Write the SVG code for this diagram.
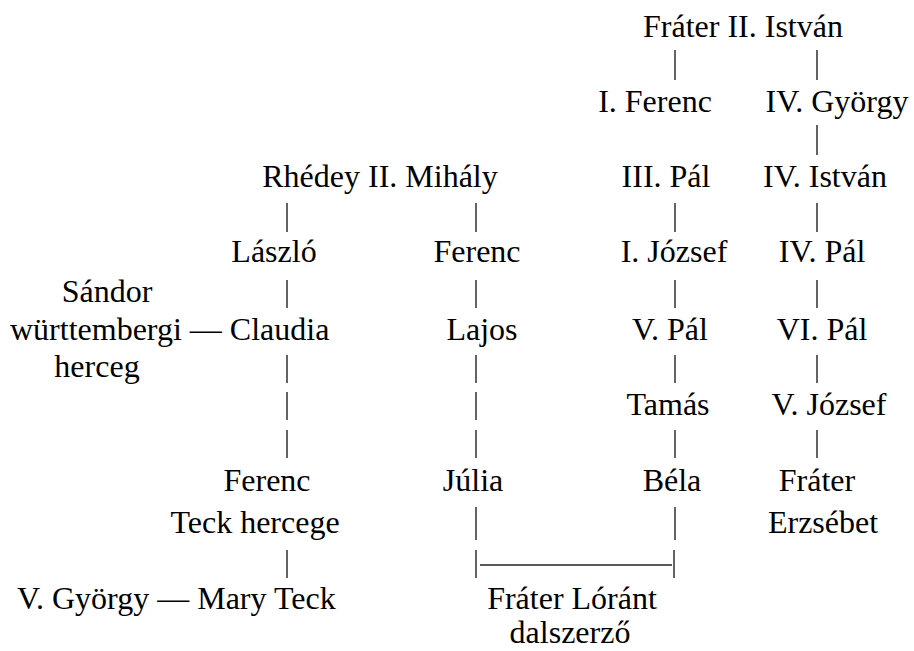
<svg xmlns="http://www.w3.org/2000/svg" width="914" height="651" viewBox="0 0 914 651">
<style>
text{font-family:"Liberation Serif",Tinos,"Times New Roman","DejaVu Serif",serif;font-size:32px;fill:#000;text-anchor:middle}
.s{text-anchor:start}
.c line{stroke:#222;stroke-width:1.4}
</style>
<rect width="914" height="651" fill="#fff"/>
<g class="c" id="connectors">
<line x1="675" y1="50" x2="675" y2="80"/>
<line x1="817" y1="50" x2="817" y2="80"/>
<line x1="817" y1="125" x2="817" y2="155"/>
<line x1="287" y1="203" x2="287" y2="232"/>
<line x1="476" y1="203" x2="476" y2="232"/>
<line x1="675" y1="203" x2="675" y2="232"/>
<line x1="817" y1="203" x2="817" y2="232"/>
<line x1="287" y1="280" x2="287" y2="308"/>
<line x1="476" y1="280" x2="476" y2="308"/>
<line x1="675" y1="280" x2="675" y2="308"/>
<line x1="817" y1="280" x2="817" y2="308"/>
<line x1="287" y1="355" x2="287" y2="383"/>
<line x1="476" y1="355" x2="476" y2="383"/>
<line x1="675" y1="355" x2="675" y2="383"/>
<line x1="817" y1="355" x2="817" y2="383"/>
<line x1="287" y1="392" x2="287" y2="420"/>
<line x1="476" y1="392" x2="476" y2="420"/>
<line x1="287" y1="430" x2="287" y2="458"/>
<line x1="476" y1="430" x2="476" y2="458"/>
<line x1="675" y1="430" x2="675" y2="458"/>
<line x1="817" y1="430" x2="817" y2="458"/>
<line x1="476" y1="507" x2="476" y2="540"/>
<line x1="675" y1="507" x2="675" y2="540"/>
<line x1="287" y1="550" x2="287" y2="578"/>
<line x1="476" y1="550" x2="476" y2="578"/>
<line x1="674" y1="550" x2="674" y2="578"/>
<line x1="480" y1="565" x2="672" y2="565"/>
</g>
<g id="frater-ii-istvan"><text x="743" y="37">Fráter II. István</text></g>
<g id="i-ferenc"><text x="655" y="112">I. Ferenc</text></g>
<g id="iv-gyorgy"><text x="837" y="112">IV. György</text></g>
<g id="rhedey-ii-mihaly"><text x="380" y="187">Rhédey II. Mihály</text></g>
<g id="iii-pal"><text x="666" y="187">III. Pál</text></g>
<g id="iv-istvan"><text x="825" y="187">IV. István</text></g>
<g id="laszlo"><text x="274" y="262">László</text></g>
<g id="ferenc-b"><text x="477" y="262">Ferenc</text></g>
<g id="i-jozsef"><text x="674" y="262">I. József</text></g>
<g id="iv-pal"><text x="822" y="262">IV. Pál</text></g>
<g id="sandor"><text x="107" y="302">Sándor</text><text class="s" x="10" y="340">württembergi — Claudia</text><text x="97" y="377">herceg</text></g>
<g id="lajos"><text x="482" y="340">Lajos</text></g>
<g id="v-pal"><text x="670" y="340">V. Pál</text></g>
<g id="vi-pal"><text x="822" y="340">VI. Pál</text></g>
<g id="tamas"><text x="668" y="415">Tamás</text></g>
<g id="v-jozsef"><text x="829" y="415">V. József</text></g>
<g id="ferenc-teck"><text x="267" y="491">Ferenc</text><text x="255" y="533">Teck hercege</text></g>
<g id="julia"><text x="473" y="491">Júlia</text></g>
<g id="bela"><text x="672" y="491">Béla</text></g>
<g id="frater-erzsebet"><text x="817" y="491">Fráter</text><text x="823" y="533">Erzsébet</text></g>
<g id="mary-teck"><text class="s" x="17" y="609">V. György — Mary Teck</text></g>
<g id="frater-lorant"><text x="572" y="609">Fráter Lóránt</text><text x="570" y="643">dalszerző</text></g>
</svg>
